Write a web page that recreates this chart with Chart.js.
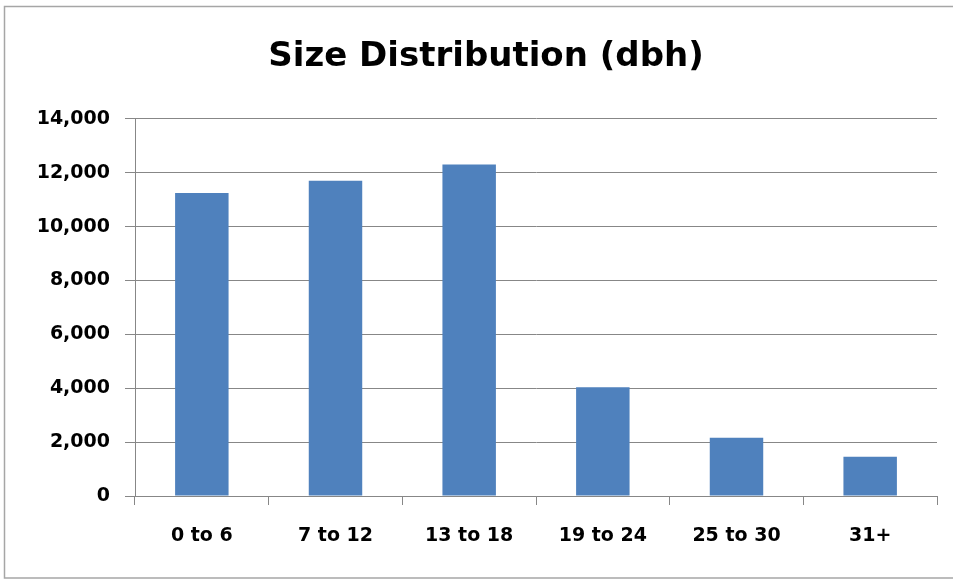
<!DOCTYPE html>
<html>
<head>
<meta charset="utf-8">
<script src="https://cdn.jsdelivr.net/npm/chart.js@4/dist/chart.umd.min.js"></script>
<style>
  html, body { margin: 0; padding: 0; background: #fff; overflow: hidden; width: 953px; height: 581px; }
  #wrap { position: absolute; left: 0; top: 0; width: 972px; height: 581px; }
</style>
</head>
<body>
<div id="wrap"><canvas id="chart" width="972" height="581"></canvas></div>
<script>
// Tree counts by diameter-at-breast-height class
const categories = ['0 to 6', '7 to 12', '13 to 18', '19 to 24', '25 to 30', '31+'];
const treeCounts = [11250, 11700, 12300, 4040, 2160, 1460];
const yTickValues = [0, 2000, 4000, 6000, 8000, 10000, 12000, 14000];

const FONT = '"DejaVu Sans", sans-serif';
const GRID = '#878787';

// Thin grey frame around the whole chart (open on the right, where it runs off the page)
const chartFrame = {
  id: 'chartFrame',
  beforeDraw(chart) {
    const ctx = chart.ctx;
    ctx.save();
    ctx.strokeStyle = '#a6a6a6';
    ctx.lineWidth = 1.5;
    ctx.beginPath();
    ctx.moveTo(chart.width, 6.5);
    ctx.lineTo(4.5, 6.5);
    ctx.lineTo(4.5, 578);
    ctx.lineTo(chart.width, 578);
    ctx.stroke();
    ctx.restore();
  }
};

new Chart(document.getElementById('chart'), {
  type: 'bar',
  data: {
    labels: categories,
    datasets: [{
      data: treeCounts,
      backgroundColor: '#4f81bd',
      borderWidth: 0,
      categoryPercentage: 1.0,
      barPercentage: 0.4
    }]
  },
  plugins: [chartFrame],
  options: {
    responsive: false,
    animation: false,
    devicePixelRatio: 1,
    layout: { padding: { left: 35, right: 35, top: 0, bottom: 0 } },
    plugins: {
      legend: { display: false },
      tooltip: { enabled: false },
      title: {
        display: true,
        text: 'Size Distribution (dbh)',
        color: '#000',
        font: { family: FONT, size: 34, weight: 'bold', lineHeight: 1.2 },
        padding: { top: 37, bottom: 41 }
      }
    },
    scales: {
      x: {
        grid: {
          offset: true,
          drawOnChartArea: false,
          drawTicks: true,
          tickLength: 9,
          color: GRID,
          lineWidth: 1
        },
        border: { color: GRID, width: 1 },
        ticks: {
          color: '#000',
          padding: 20,
          maxRotation: 0,
          font: { family: FONT, size: 19, weight: 'bold', lineHeight: 1.2 }
        },
        afterFit: (s) => { s.height = 85; }
      },
      y: {
        min: 0,
        max: 14000,
        afterBuildTicks: (s) => { s.ticks = yTickValues.map(v => ({ value: v })); },
        grid: {
          drawTicks: true,
          tickLength: 10,
          color: GRID,
          lineWidth: 1
        },
        border: { color: GRID, width: 1 },
        ticks: {
          color: '#000',
          padding: 15,
          font: { family: FONT, size: 19, weight: 'bold', lineHeight: 1.2 },
          callback: (v) => Number(v).toLocaleString('en-US')
        },
        afterFit: (s) => { s.width = 100; }
      }
    }
  }
});
</script>
</body>
</html>
